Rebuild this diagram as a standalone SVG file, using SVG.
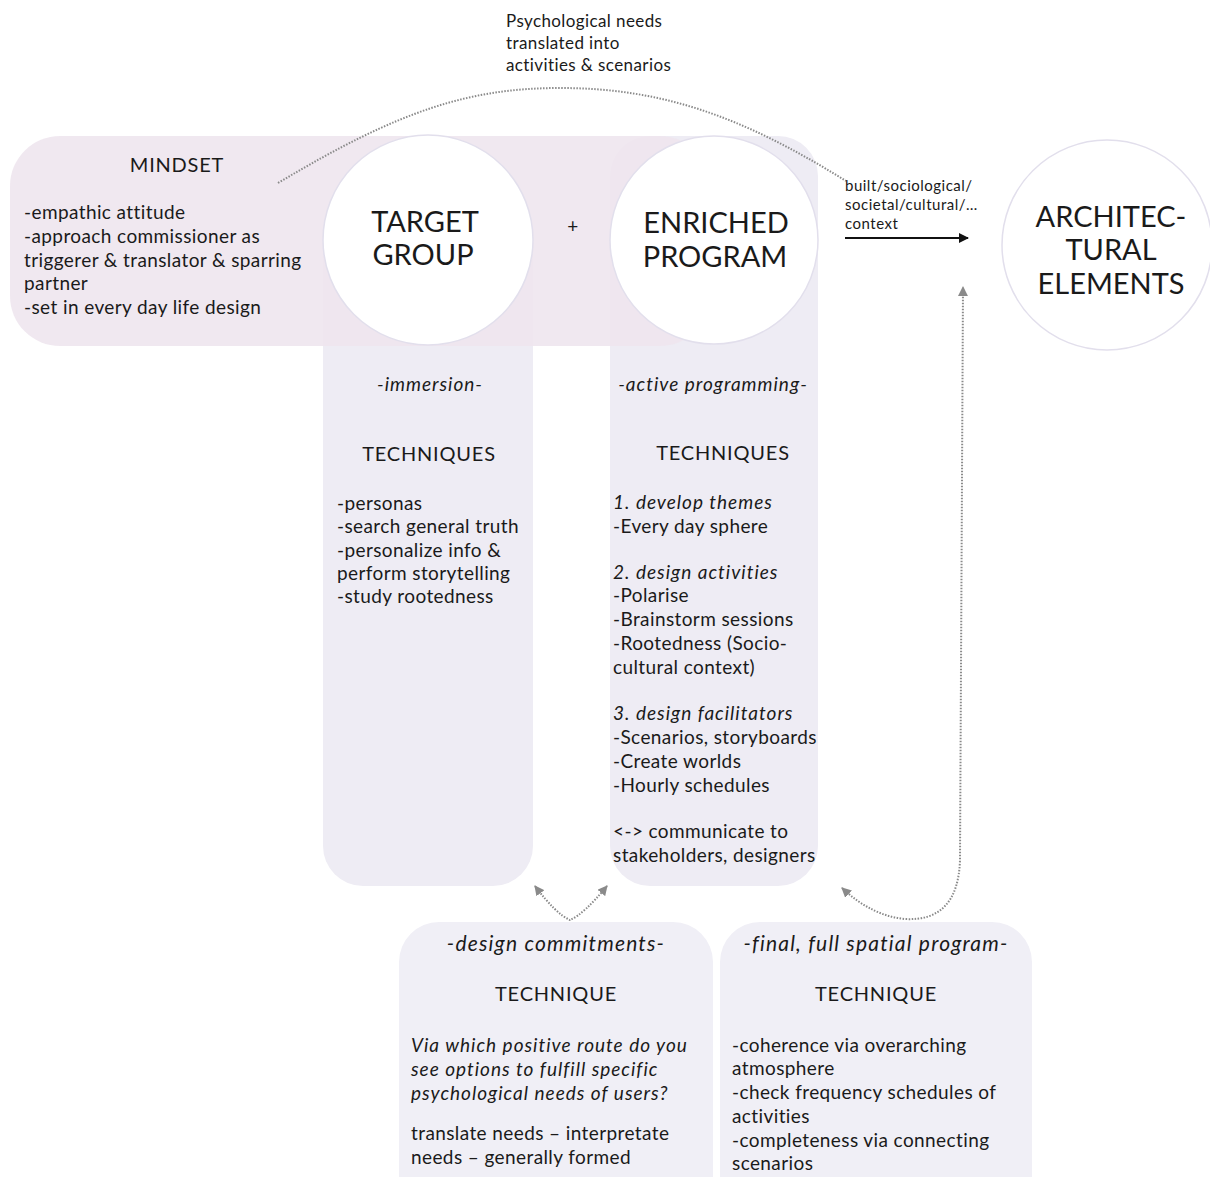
<svg xmlns="http://www.w3.org/2000/svg" width="1210" height="1177" viewBox="0 0 1210 1177">
<defs>
<style>
text{font-family:Lato,"Open Sans","Liberation Sans",sans-serif;fill:#1a1a1a}
.b{font-size:19px;letter-spacing:0.4px}
.i{font-style:italic;letter-spacing:1px}
.hd{font-size:21px;letter-spacing:1.2px}
.h{font-size:20px;letter-spacing:0.8px}
.big{font-size:29px}
.sm{font-size:15px;letter-spacing:0.5px}
.lab{font-size:17px;letter-spacing:0.4px}
.c{text-anchor:middle}
.col{fill:#EEECF4}
.box{fill:#F0EFF6}
.circ{fill:#FFFFFF;stroke:#E2DFEC;stroke-width:1.5}
.dot{fill:none;stroke:#8a8a8a;stroke-width:2;stroke-dasharray:1.5 1.5}
</style>
<marker id="ga" viewBox="0 0 10 10" refX="9" refY="5" markerWidth="5" markerHeight="5" orient="auto-start-reverse" markerUnits="strokeWidth">
<path d="M0,0 L10,5 L0,10 z" fill="#8a8a8a"/>
</marker>
<marker id="ba" viewBox="0 0 10 10" refX="9" refY="5" markerWidth="5" markerHeight="5" orient="auto" markerUnits="strokeWidth">
<path d="M0,0 L10,5 L0,10 z" fill="#111"/>
</marker>
</defs>
<rect width="1210" height="1177" fill="#FFFFFF"/>

<g id="target-column">
<rect class="col" x="323" y="200" width="210" height="686" rx="40"/>
</g>
<g id="enriched-column">
<rect class="col" x="610" y="136" width="208" height="750" rx="40"/>
</g>

<g id="mindset">
<rect x="10" y="136" width="700" height="210" rx="50" fill="#EEE6EE" fill-opacity="0.9"/>
<text class="h c" x="177" y="172">MINDSET</text>
<text class="b" x="24" y="219">-empathic attitude</text>
<text class="b" x="24" y="243">-approach commissioner as</text>
<text class="b" x="24" y="267">triggerer &amp; translator &amp; sparring</text>
<text class="b" x="24" y="290">partner</text>
<text class="b" x="24" y="314">-set in every day life design</text>
</g>

<g id="connectors">
<path class="dot" d="M278,183 C400,110 470,88 560,88 C660,88 740,115 846,181"/>
<line x1="845" y1="238" x2="968" y2="238" stroke="#111" stroke-width="2" marker-end="url(#ba)"/>
<path class="dot" d="M535,886 Q556,914 570,920 Q584,914 607,886" marker-start="url(#ga)" marker-end="url(#ga)"/>
<path class="dot" d="M842,888 Q872,916 905,919 Q958,922 960,860 L963,287" marker-start="url(#ga)" marker-end="url(#ga)"/>
</g>

<g id="label-top">
<text class="lab" x="506" y="27">Psychological needs</text>
<text class="lab" x="506" y="49">translated into</text>
<text class="lab" x="506" y="71">activities &amp; scenarios</text>
</g>

<g id="label-context">
<text class="sm" x="845" y="191">built/sociological/</text>
<text class="sm" x="845" y="210">societal/cultural/…</text>
<text class="sm" x="845" y="229">context</text>
</g>

<g id="target-group">
<circle class="circ" cx="428" cy="240" r="105"/>
<text class="big c" x="425" y="232">TARGET</text>
<text class="big c" x="423" y="265">GROUP</text>
</g>

<g id="plus">
<text class="b c" x="573" y="233">+</text>
</g>

<g id="enriched-program">
<circle class="circ" cx="714" cy="240" r="104"/>
<text class="big c" x="716" y="233">ENRICHED</text>
<text class="big c" x="715" y="267">PROGRAM</text>
</g>

<g id="architectural-elements">
<circle class="circ" cx="1107" cy="245" r="105"/>
<text class="big c" x="1111" y="227">ARCHITEC-</text>
<text class="big c" x="1111" y="260">TURAL</text>
<text class="big c" x="1111" y="294">ELEMENTS</text>
</g>

<g id="target-techniques">
<text class="b i c" x="430" y="391">-immersion-</text>
<text class="h c" x="429" y="461">TECHNIQUES</text>
<text class="b" x="337" y="510">-personas</text>
<text class="b" x="337" y="533">-search general truth</text>
<text class="b" x="337" y="557">-personalize info &amp;</text>
<text class="b" x="337" y="580">perform storytelling</text>
<text class="b" x="337" y="603">-study rootedness</text>
</g>

<g id="enriched-techniques">
<text class="b i c" x="713" y="391">-active programming-</text>
<text class="h c" x="723" y="460">TECHNIQUES</text>
<text class="b i" x="613" y="509">1. develop themes</text>
<text class="b" x="613" y="533">-Every day sphere</text>
<text class="b i" x="613" y="579">2. design activities</text>
<text class="b" x="613" y="602">-Polarise</text>
<text class="b" x="613" y="626">-Brainstorm sessions</text>
<text class="b" x="613" y="650">-Rootedness (Socio-</text>
<text class="b" x="613" y="674">cultural context)</text>
<text class="b i" x="613" y="720">3. design facilitators</text>
<text class="b" x="613" y="744">-Scenarios, storyboards</text>
<text class="b" x="613" y="768">-Create worlds</text>
<text class="b" x="613" y="792">-Hourly schedules</text>
<text class="b" x="613" y="838">&lt;-&gt; communicate to</text>
<text class="b" x="613" y="862">stakeholders, designers</text>
</g>

<g id="design-commitments">
<rect class="box" x="399" y="922" width="314" height="300" rx="40"/>
<text class="hd i c" x="556" y="951">-design commitments-</text>
<text class="h c" x="556" y="1001">TECHNIQUE</text>
<text class="b i" x="411" y="1052">Via which positive route do you</text>
<text class="b i" x="411" y="1076">see options to fulfill specific</text>
<text class="b i" x="411" y="1100">psychological needs of users?</text>
<text class="b" x="411" y="1140">translate needs – interpretate</text>
<text class="b" x="411" y="1164">needs – generally formed</text>
</g>

<g id="final-program">
<rect class="box" x="720" y="922" width="312" height="300" rx="40"/>
<text class="hd i c" x="876" y="951">-final, full spatial program-</text>
<text class="h c" x="876" y="1001">TECHNIQUE</text>
<text class="b" x="732" y="1052">-coherence via overarching</text>
<text class="b" x="732" y="1075">atmosphere</text>
<text class="b" x="732" y="1099">-check frequency schedules of</text>
<text class="b" x="732" y="1123">activities</text>
<text class="b" x="732" y="1147">-completeness via connecting</text>
<text class="b" x="732" y="1170">scenarios</text>
</g>
</svg>
